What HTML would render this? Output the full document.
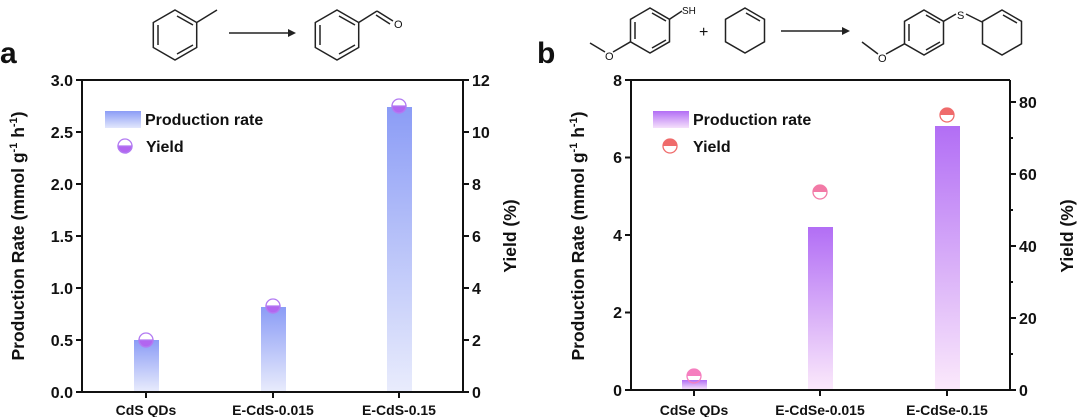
<!DOCTYPE html>
<html><head><style>
body{margin:0;background:#fff}
svg{display:block}
text{font-family:"Liberation Sans",Arial,sans-serif;font-weight:bold;fill:#111}
</style></head><body>
<svg width="1080" height="417" viewBox="0 0 1080 417" xmlns="http://www.w3.org/2000/svg">
<defs>
<linearGradient id="ga" x1="0" y1="0" x2="0" y2="1"><stop offset="0" stop-color="#8b9cf6"/><stop offset="1" stop-color="#e9ecfc"/></linearGradient>
<linearGradient id="gb" x1="0" y1="0" x2="0" y2="1"><stop offset="0" stop-color="#b26ef5"/><stop offset="1" stop-color="#fbe9fb"/></linearGradient>
<linearGradient id="gal" x1="0" y1="0" x2="0" y2="1"><stop offset="0" stop-color="#8b9cf6"/><stop offset="1" stop-color="#e2e7fc"/></linearGradient>
<linearGradient id="gbl" x1="0" y1="0" x2="0" y2="1"><stop offset="0" stop-color="#b26ef5"/><stop offset="1" stop-color="#f5e0fb"/></linearGradient>
</defs>
<g stroke="#222" stroke-width="1.5" fill="none">
<polygon points="175,10 196.7,22.5 196.7,47.5 175,60 153.3,47.5 153.3,22.5"/>
<line x1="158" y1="25" x2="158" y2="45"/><line x1="177" y1="54" x2="193" y2="45"/><line x1="177" y1="16" x2="193" y2="25"/>
<line x1="196.7" y1="22.5" x2="217" y2="10"/>
<line x1="229" y1="33" x2="288" y2="33"/>
<polygon points="337,10 358.7,22.5 358.7,47.5 337,60 315.3,47.5 315.3,22.5"/>
<line x1="320" y1="25" x2="320" y2="45"/><line x1="339" y1="54" x2="355" y2="45"/><line x1="339" y1="16" x2="355" y2="25"/>
<line x1="358.7" y1="22.5" x2="377" y2="11"/><line x1="377" y1="11" x2="393" y2="21"/><line x1="376" y1="15" x2="390" y2="24"/>
<polygon points="650,8 669.5,19.3 669.5,41.8 650,53 630.5,41.8 630.5,19.3"/>
<line x1="635" y1="22" x2="635" y2="39"/><line x1="652" y1="48" x2="666" y2="40"/><line x1="652" y1="13" x2="666" y2="21"/>
<line x1="669.5" y1="19.3" x2="682" y2="11"/>
<line x1="630.5" y1="41.8" x2="613" y2="52"/><line x1="605" y1="52" x2="590" y2="43"/>
<polygon points="745,8 764.5,19.3 764.5,41.8 745,53 725.5,41.8 725.5,19.3"/>
<line x1="746" y1="13" x2="760" y2="21"/>
<line x1="781" y1="31" x2="842" y2="31"/>
<polygon points="924,10 943.5,21.3 943.5,43.8 924,55 904.5,43.8 904.5,21.3"/>
<line x1="909" y1="24" x2="909" y2="41"/><line x1="926" y1="50" x2="940" y2="42"/><line x1="926" y1="15" x2="940" y2="23"/>
<line x1="904.5" y1="43.8" x2="886" y2="54"/><line x1="878" y1="54" x2="862" y2="42"/>
<line x1="943.5" y1="21.3" x2="956" y2="14"/><line x1="966" y1="14" x2="982" y2="22"/>
<polygon points="1002,10 1021.5,21.3 1021.5,43.8 1002,55 982.5,43.8 982.5,21.3"/>
<line x1="1003" y1="15" x2="1017" y2="23"/>
</g>
<polygon points="288,29 296,33 288,37" fill="#222"/>
<polygon points="842,27 850,31 842,35" fill="#222"/>
<text x="394" y="28" font-size="11" style="font-weight:normal">O</text>
<text x="682" y="14" font-size="10" style="font-weight:normal">SH</text>
<text x="605" y="60" font-size="11" style="font-weight:normal">O</text>
<text x="699" y="37" font-size="16" style="font-weight:normal">+</text>
<text x="878" y="62" font-size="11" style="font-weight:normal">O</text>
<text x="957" y="19" font-size="11" style="font-weight:normal">S</text>

<text x="0" y="63" font-size="30">a</text>
<text x="537" y="63" font-size="30">b</text>

<rect x="134" y="340" width="25" height="52" fill="url(#ga)"/>
<rect x="261" y="307" width="25" height="85" fill="url(#ga)"/>
<rect x="387" y="107" width="25" height="285" fill="url(#ga)"/>
<g stroke="#111" stroke-width="2" fill="none">
<line x1="82" y1="80" x2="463" y2="80"/><line x1="82" y1="80" x2="82" y2="392"/><line x1="463" y1="80" x2="463" y2="392"/><line x1="81" y1="392" x2="464" y2="392"/>
<path d="M76 80H82M76 132H82M76 184H82M76 236H82M76 288H82M76 340H82M76 392H82"/>
<path d="M463 80H469M463 132H469M463 184H469M463 236H469M463 288H469M463 340H469M463 392H469"/>
<path d="M146 392V398M273 392V398M399 392V398"/>
</g>
<g font-size="16" text-anchor="end">
<text x="73" y="86">3.0</text><text x="73" y="138">2.5</text><text x="73" y="190">2.0</text><text x="73" y="242">1.5</text><text x="73" y="294">1.0</text><text x="73" y="346">0.5</text><text x="73" y="398">0.0</text>
</g>
<g font-size="16">
<text x="472" y="86">12</text><text x="472" y="138">10</text><text x="472" y="190">8</text><text x="472" y="242">6</text><text x="472" y="294">4</text><text x="472" y="346">2</text><text x="472" y="398">0</text>
</g>
<g font-size="14" text-anchor="middle">
<text x="146" y="415">CdS QDs</text><text x="273" y="415">E-CdS-0.015</text><text x="399" y="415">E-CdS-0.15</text>
</g>
<text transform="translate(24,236) rotate(-90)" font-size="17.5" text-anchor="middle">Production Rate (mmol g<tspan font-size="11" dy="-7">-1</tspan><tspan dy="7"> h</tspan><tspan font-size="11" dy="-7">-1</tspan><tspan dy="7">)</tspan></text>
<text transform="translate(516,236) rotate(-90)" font-size="17.5" text-anchor="middle">Yield (%)</text>
<rect x="105" y="111" width="36" height="17" fill="url(#gal)"/>
<text x="145" y="125" font-size="16">Production rate</text>
<text x="146" y="152" font-size="16">Yield</text>
<g stroke="#b27af2" stroke-width="1.3">
<path d="M118 146a7 7 0 0 0 14 0z" fill="#b266f0"/><circle cx="125" cy="146" r="7" fill="none"/>
<path d="M139 340a7 7 0 0 0 14 0z" fill="#b266f0"/><circle cx="146" cy="340" r="7" fill="none"/>
<path d="M266 306a7 7 0 0 0 14 0z" fill="#b266f0"/><circle cx="273" cy="306" r="7" fill="none"/>
<path d="M392 106a7 7 0 0 0 14 0z" fill="#b266f0"/><circle cx="399" cy="106" r="7" fill="none"/>
</g>

<rect x="682" y="380" width="25" height="10" fill="url(#gb)"/>
<rect x="808" y="227" width="25" height="163" fill="url(#gb)"/>
<rect x="935" y="126" width="25" height="264" fill="url(#gb)"/>
<g stroke="#111" stroke-width="2" fill="none">
<line x1="631" y1="80" x2="1010" y2="80"/><line x1="631" y1="80" x2="631" y2="390"/><line x1="1010" y1="80" x2="1010" y2="390"/><line x1="630" y1="390" x2="1011" y2="390"/>
<path d="M625 80H631M625 157.5H631M625 235H631M625 312.5H631M625 390H631"/>
<path d="M1010 102H1016M1010 174H1016M1010 246H1016M1010 318H1016M1010 390H1016M1010 138H1013M1010 210H1013M1010 282H1013M1010 354H1013"/>
<path d="M694 390V396M820 390V396M947 390V396"/>
</g>
<g font-size="16" text-anchor="end">
<text x="622" y="86">8</text><text x="622" y="163">6</text><text x="622" y="241">4</text><text x="622" y="318">2</text><text x="622" y="396">0</text>
</g>
<g font-size="16">
<text x="1019" y="108">80</text><text x="1019" y="180">60</text><text x="1019" y="252">40</text><text x="1019" y="324">20</text><text x="1019" y="396">0</text>
</g>
<g font-size="14" text-anchor="middle">
<text x="694" y="415">CdSe QDs</text><text x="820" y="415">E-CdSe-0.015</text><text x="947" y="415">E-CdSe-0.15</text>
</g>
<text transform="translate(584,236) rotate(-90)" font-size="17.5" text-anchor="middle">Production Rate (mmol g<tspan font-size="11" dy="-7">-1</tspan><tspan dy="7"> h</tspan><tspan font-size="11" dy="-7">-1</tspan><tspan dy="7">)</tspan></text>
<text transform="translate(1073,236) rotate(-90)" font-size="17.5" text-anchor="middle">Yield (%)</text>
<rect x="653" y="111" width="36" height="17" fill="url(#gbl)"/>
<text x="693" y="125" font-size="16">Production rate</text>
<text x="693" y="152" font-size="16">Yield</text>
<g stroke-width="1.3">
<path d="M663 146a7 7 0 0 1 14 0z" fill="#ef6b6b"/><circle cx="670" cy="146" r="7" fill="none" stroke="#ef6b6b"/>
<path d="M687 376a7 7 0 0 1 14 0z" fill="#f57fbf"/><circle cx="694" cy="376" r="7" fill="none" stroke="#f57fbf"/>
<path d="M813 192a7 7 0 0 1 14 0z" fill="#f27aa6"/><circle cx="820" cy="192" r="7" fill="none" stroke="#f27aa6"/>
<path d="M940 115a7 7 0 0 1 14 0z" fill="#ef6b6b"/><circle cx="947" cy="115" r="7" fill="none" stroke="#ef6b6b"/>
</g>
</svg>
</body></html>
